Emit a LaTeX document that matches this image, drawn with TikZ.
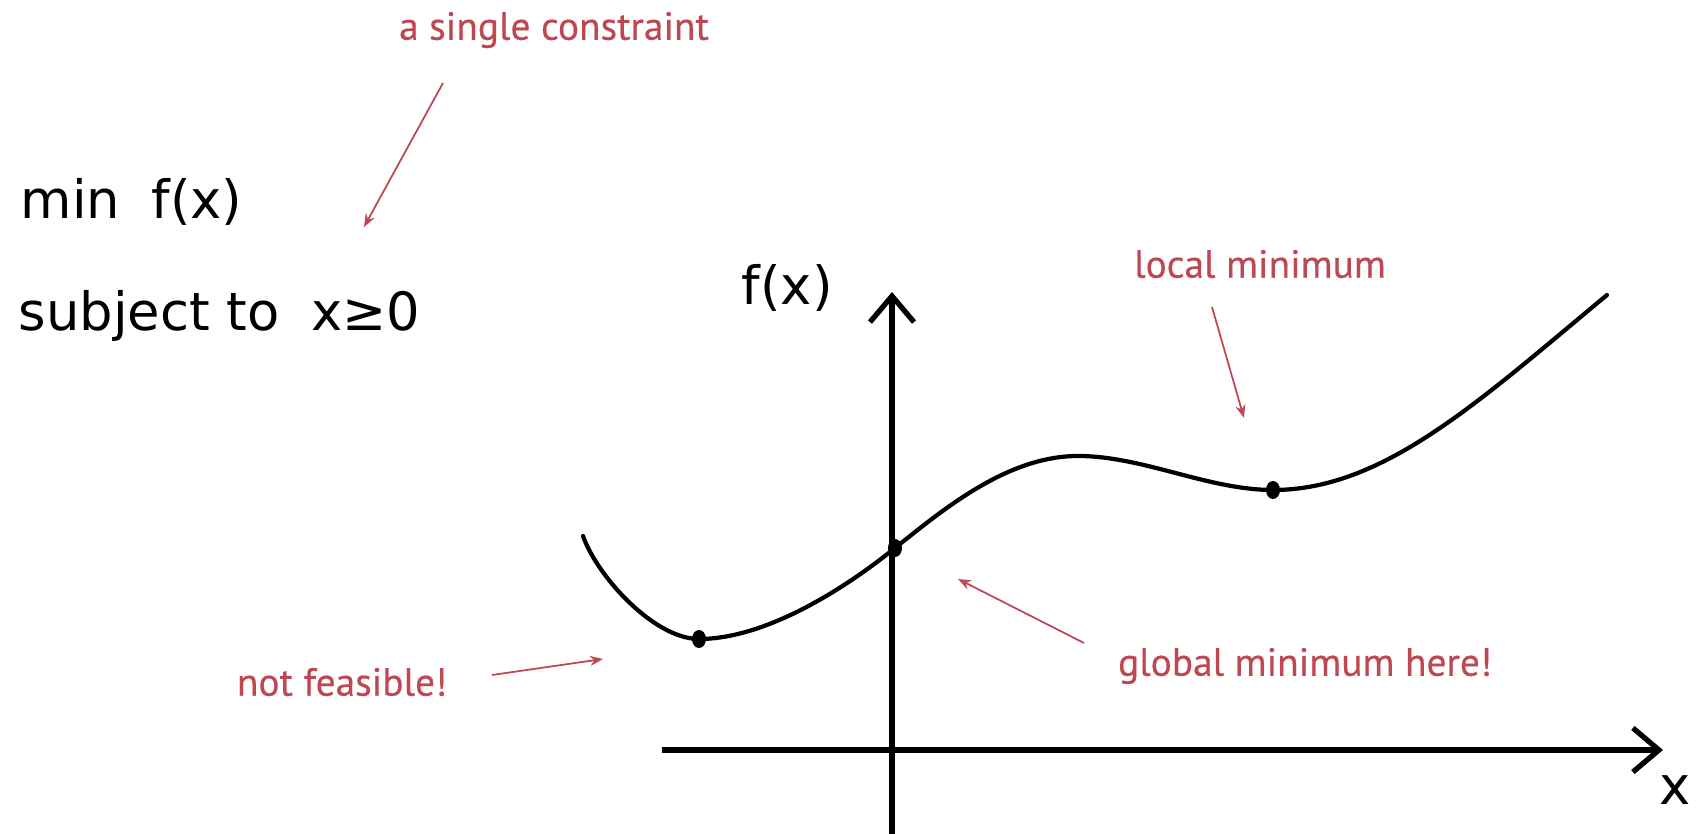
\documentclass[tikz,border=0pt]{standalone}
\usepackage{fontspec}
\setmainfont{PT Sans}
\newfontfamily\handfont{DejaVu Sans}
\newfontfamily\notefont[FakeBold=0.4]{PT Sans}
\usetikzlibrary{arrows.meta, shapes.geometric}
\definecolor{notered}{RGB}{190,72,82}

\begin{document}
\begin{tikzpicture}[
  x=0.01cm, y=-0.01cm,
  note/.style={text=notered, font=\notefont\fontsize{11.2}{13}\selectfont, inner sep=0pt},
  hand/.style={font=\handfont\fontsize{15}{18}\selectfont, inner sep=0pt, anchor=west},
  callout/.style={draw=notered, line width=0.5pt, -{Stealth[length=1.3mm, width=1mm]}},
  axis/.style={line width=1.5pt, -{Straight Barb[length=2.6mm, width=4.4mm]}},
  graph/.style={line width=1.2pt, line cap=round},
  point/.style={ellipse, fill, inner sep=0pt, minimum width=1.4mm, minimum height=1.8mm},
]
  \useasboundingbox (0,0) rectangle (1696,834);

  % the problem
  \node[hand] (objective) at (20,202) {min\; f(x)};
  \node[hand] (constraint) at (18,316) {subject to\; x≥0};

  % axes
  \coordinate (origin) at (892,750);
  \coordinate (ybottom) at (892,834);
  \coordinate (ytop) at (892,292);
  \coordinate (xleft) at (662,750);
  \coordinate (xright) at (1663,750);
  \draw[axis] (ybottom) -- (ytop);
  \draw[axis] (xleft) -- (xright);
  \node[hand] (ylabel) at (741,288) {f(x)};
  \node[hand] (xlabel) at (1659,790) {x};

  % the function
  \coordinate (start) at (583,536);
  \coordinate (bump) at (1078,456);
  \coordinate (finish) at (1607,295);
  \node[point] (infeasmin) at (699,639) {};
  \node[point] (globalmin) at (895,548) {};
  \node[point] (localmin) at (1273,490) {};
  \draw[graph] (start)
    .. controls (597,576) and (654,639) .. (infeasmin.center)
    .. controls (762,639) and (838,594) .. (globalmin.center)
    .. controls (945,508) and (1008,456) .. (bump)
    .. controls (1143,456) and (1208,490) .. (localmin.center)
    .. controls (1383,490) and (1477,403) .. (finish);

  % notes
  \node[note] (single) at (554,30) {a single constraint};
  \node[note] (local) at (1260,264) {local minimum};
  \node[note] (global) at (1305,666) {global minimum here!};
  \node[note] (notfeas) at (342,682) {not feasible!};

  \coordinate (single-from) at (443,83);
  \coordinate (single-to) at (364,227);
  \coordinate (local-from) at (1212,307);
  \coordinate (local-to) at (1244,418);
  \coordinate (global-from) at (1084,643);
  \coordinate (global-to) at (958,579);
  \coordinate (notfeas-from) at (492,675);
  \coordinate (notfeas-to) at (603,659);
  \draw[callout] (single-from) -- (single-to);
  \draw[callout] (local-from) -- (local-to);
  \draw[callout] (global-from) -- (global-to);
  \draw[callout] (notfeas-from) -- (notfeas-to);
\end{tikzpicture}
\end{document}
